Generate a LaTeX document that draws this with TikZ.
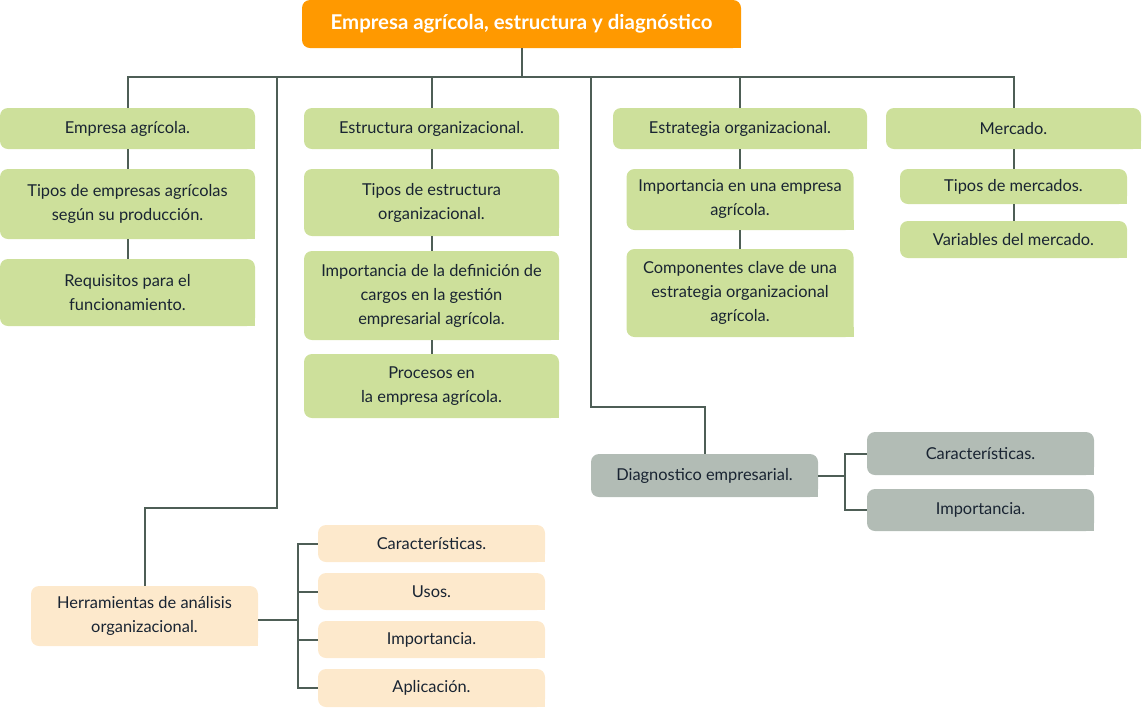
\documentclass[tikz,border=0pt]{standalone}
\usepackage{fontspec}
\setmainfont{Lato}
\usepackage{xcolor}
\usetikzlibrary{positioning,calc}
\definecolor{naranja}{RGB}{255,153,0}
\definecolor{verde}{RGB}{205,224,155}
\definecolor{gris}{RGB}{178,188,181}
\definecolor{durazno}{RGB}{253,233,204}
\definecolor{linea}{RGB}{78,94,86}
\definecolor{texto}{RGB}{25,36,50}
\tikzset{
    caja/.style={rounded corners=6pt, inner sep=2pt, align=center, text=texto,
        font=\fontsize{12.3}{18}\selectfont},
    cverde/.style={caja, fill=verde},
    cgris/.style={caja, fill=gris},
    cdurazno/.style={caja, fill=durazno},
    conector/.style={line width=1.5pt, linea},
}
\begin{document}
\begin{tikzpicture}[x=0.75pt,y=-0.75pt]
    \useasboundingbox (0,0) rectangle (1142,708);
    % titulo
    \node[caja, fill=naranja, text=white, font=\fontsize{15.3}{18}\selectfont\bfseries,
        minimum width=329.25pt, minimum height=36pt] (titulo) at (521.5,24)
        {Empresa agrícola, estructura y diagnóstico};
    % columna 1
    \node[cverde, minimum width=191.25pt, minimum height=30.75pt] (e1) at (127.5,128.5) {Empresa agrícola.};
    \node[cverde, minimum width=191.25pt, minimum height=52.5pt] (e2) at (127.5,204) {Tipos de empresas agrícolas\\según su producción.};
    \node[cverde, minimum width=191.25pt, minimum height=50.25pt] (e3) at (127.5,292.5) {Requisitos para el\\funcionamiento.};
    % columna 2
    \node[cverde, minimum width=191.25pt, minimum height=30.75pt] (s1) at (431.5,128.5) {Estructura organizacional.};
    \node[cverde, minimum width=191.25pt, minimum height=50.25pt] (s2) at (431.5,202.5) {Tipos de estructura\\organizacional.};
    \node[cverde, minimum width=191.25pt, minimum height=66.75pt] (s3) at (431.5,295.5) {Importancia de la definición de\\cargos en la gestión\\empresarial agrícola.};
    \node[cverde, minimum width=191.25pt, minimum height=48pt] (s4) at (431.5,386) {Procesos en\\la empresa agrícola.};
    % columna 3
    \node[cverde, minimum width=190.5pt, minimum height=30.75pt] (g1) at (740,128.5) {Estrategia organizacional.};
    \node[cverde, minimum width=170.25pt, minimum height=45.75pt] (g2) at (740,199.5) {Importancia en una empresa\\agrícola.};
    \node[cverde, minimum width=170.25pt, minimum height=66pt] (g3) at (740,293) {Componentes clave de una\\estrategia organizacional\\agrícola.};
    % columna 4
    \node[cverde, minimum width=191.25pt, minimum height=30.75pt] (m1) at (1013.5,128.5) {Mercado.};
    \node[cverde, minimum width=170.25pt, minimum height=26.25pt] (m2) at (1013.5,186.5) {Tipos de mercados.};
    \node[cverde, minimum width=170.25pt, minimum height=27.75pt] (m3) at (1013.5,239.5) {Variables del mercado.};
    % diagnostico
    \node[cgris, minimum width=170.25pt, minimum height=32.25pt] (d0) at (704.5,475.5) {Diagnostico empresarial.};
    \node[cgris, minimum width=170.25pt, minimum height=32.25pt] (d1) at (980.5,453.5) {Características.};
    \node[cgris, minimum width=170.25pt, minimum height=31.5pt] (d2) at (980.5,510) {Importancia.};
    % herramientas
    \node[cdurazno, minimum width=170.25pt, minimum height=45pt] (h0) at (144.5,616) {Herramientas de análisis\\organizacional.};
    \node[cdurazno, minimum width=170.25pt, minimum height=27.75pt] (h1) at (431.5,543.5) {Características.};
    \node[cdurazno, minimum width=170.25pt, minimum height=27.75pt] (h2) at (431.5,591.5) {Usos.};
    \node[cdurazno, minimum width=170.25pt, minimum height=27.75pt] (h3) at (431.5,639.5) {Importancia.};
    \node[cdurazno, minimum width=170.25pt, minimum height=28.5pt] (h4) at (431.5,688) {Aplicación.};
    % esquinas rectas abajo a la derecha
    \fill[naranja] (titulo.south east) rectangle ++(-10,-10);
    \foreach \n in {e1,e2,e3,s1,s2,s3,s4,g1,g2,g3,m1,m2,m3}
        \fill[verde] (\n.south east) rectangle ++(-10,-10);
    \foreach \n in {d0,d1,d2}
        \fill[gris] (\n.south east) rectangle ++(-10,-10);
    \foreach \n in {h0,h1,h2,h3,h4}
        \fill[durazno] (\n.south east) rectangle ++(-10,-10);
    % lineas
    \coordinate (bus) at (0,77);
    \coordinate (r1) at (277,77);
    \coordinate (r2) at (591,77);
    \draw[conector] (titulo.south) -- (titulo.south |- bus);
    \draw[conector] (e1.north) -- (e1.north |- bus) -- (m1.north |- bus) -- (m1.north);
    \foreach \n in {s1,g1}
        \draw[conector] (\n.north) -- (\n.north |- bus);
    \draw[conector] (e1) -- (e2) -- (e3);
    \draw[conector] (s1) -- (s2) -- (s3) -- (s4);
    \draw[conector] (g1) -- (g2) -- (g3);
    \draw[conector] (m1) -- (m2) -- (m3);
    \draw[conector] (r1) -- ++(0,431) -| (h0.north);
    \draw[conector] (r2) -- ++(0,330) -| (d0.north);
    \draw[conector] ([yshift=-3pt]h0.east) -- ++(40,0) coordinate (hj);
    \draw[conector] (d0.east) -- ++(27,0) coordinate (dj);
    \draw[conector] (d1.west) -| (dj) |- (d2.west);
    \draw[conector] (h1.west) -| (hj) |- (h4.west);
    \draw[conector] (h2.west) -- (h2.west -| hj);
    \draw[conector] (h3.west) -- (h3.west -| hj);
\end{tikzpicture}
\end{document}
